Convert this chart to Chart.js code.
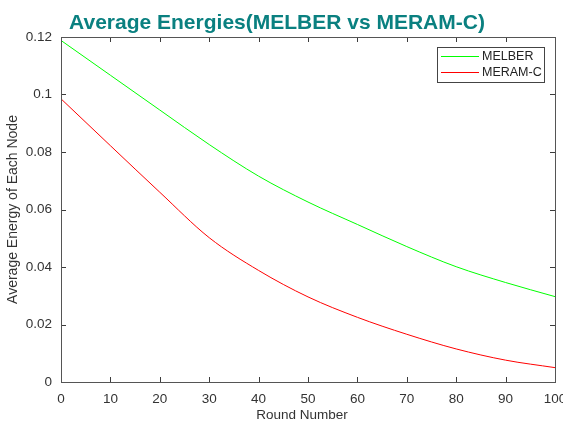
<!DOCTYPE html>
<html>
<head>
<meta charset="utf-8">
<script src="https://cdn.jsdelivr.net/npm/chart.js@4.4.1/dist/chart.umd.min.js"></script>
<style>
  html, body { margin: 0; padding: 0; background: #fff; }
  #wrap { width: 563px; height: 421px; position: relative; }
</style>
</head>
<body>
<div id="wrap"><canvas id="energyChart"></canvas></div>
<script>
// chart data
const rounds = [0, 10, 20, 30, 40, 50, 60, 70, 80, 90, 100];
const melber = [0.1188, 0.1067, 0.0946, 0.0826, 0.0716, 0.0626, 0.0548, 0.0471, 0.0401, 0.0346, 0.0297];
const meramC = [0.0985, 0.0822, 0.0660, 0.0502, 0.0388, 0.0296, 0.0225, 0.0166, 0.0115, 0.0076, 0.0050];
const yTickLabels = ['0', '0.02', '0.04', '0.06', '0.08', '0.1', '0.12'];
const xTickLabels = ['0', '10', '20', '30', '40', '50', '60', '70', '80', '90', '100'];
const seriesNames = ['MELBER', 'MERAM-C'];
const seriesColors = ['#00ff00', '#ff0000'];

const FONT = 'Liberation Sans, Arial, sans-serif';

function toPoints(ys) {
    return rounds.map((r, i) => ({ x: r, y: ys[i] }));
}

// box + inward ticks on all four sides, matlab style
const boxTicks = {
    id: 'boxTicks',
    afterDatasetsDraw(chart) {
        const { ctx, chartArea: a, scales } = chart;
        ctx.save();
        ctx.strokeStyle = '#3c3c3c';
        ctx.lineWidth = 1;
        ctx.beginPath();
        scales.x.ticks.forEach(t => {
            const px = Math.round(scales.x.getPixelForValue(t.value)) + 0.5;
            ctx.moveTo(px, a.bottom); ctx.lineTo(px, a.bottom - 5);
            ctx.moveTo(px, a.top); ctx.lineTo(px, a.top + 5);
        });
        scales.y.ticks.forEach(t => {
            const py = Math.round(scales.y.getPixelForValue(t.value)) + 0.5;
            ctx.moveTo(a.left, py); ctx.lineTo(a.left + 5, py);
            ctx.moveTo(a.right, py); ctx.lineTo(a.right - 5, py);
        });
        ctx.stroke();
        ctx.strokeStyle = '#555';
        ctx.strokeRect(Math.round(a.left) + 0.5, Math.round(a.top) + 0.5,
            Math.round(a.right - a.left), Math.round(a.bottom - a.top));
        ctx.restore();
    }
};

// legend box inside the top right corner
const innerLegend = {
    id: 'innerLegend',
    afterDraw(chart) {
        const { ctx } = chart;
        const x0 = 437, y0 = 47, w = 107, h = 35;
        ctx.save();
        ctx.fillStyle = '#fff';
        ctx.fillRect(x0, y0, w, h);
        ctx.strokeStyle = '#444';
        ctx.lineWidth = 1;
        ctx.strokeRect(x0 + 0.5, y0 + 0.5, w, h);
        ctx.font = '12.5px ' + FONT;
        ctx.textBaseline = 'middle';
        seriesNames.forEach((name, i) => {
            const y = Math.round(y0 + 9 + i * 16);
            ctx.fillStyle = seriesColors[i];
            ctx.fillRect(x0 + 4, y, 38, 1);
            ctx.fillStyle = '#222';
            ctx.fillText(name, x0 + 45, y + 1);
        });
        ctx.restore();
    }
};

// bold teal title above the plot, x axis title under it
const extraText = {
    id: 'extraText',
    afterDraw(chart) {
        const { ctx } = chart;
        ctx.save();
        ctx.font = 'bold 21px ' + FONT;
        ctx.fillStyle = '#0a8080';
        ctx.textAlign = 'center';
        ctx.textBaseline = 'alphabetic';
        ctx.fillText('Average Energies(MELBER vs MERAM-C)', 277, 29);
        ctx.font = '13.5px ' + FONT;
        ctx.fillStyle = '#333';
        ctx.fillText('Round Number', 302, 419);
        ctx.restore();
    }
};

new Chart(document.getElementById('energyChart'), {
    type: 'line',
    data: {
        datasets: [
            { label: seriesNames[0], data: toPoints(melber), borderColor: seriesColors[0], borderWidth: 1, pointRadius: 0, cubicInterpolationMode: 'monotone', fill: false },
            { label: seriesNames[1], data: toPoints(meramC), borderColor: seriesColors[1], borderWidth: 1, pointRadius: 0, cubicInterpolationMode: 'monotone', fill: false }
        ]
    },
    options: {
        responsive: true,
        maintainAspectRatio: false,
        animation: false,
        layout: { padding: { top: 37, right: 8, left: 0, bottom: 0 } },
        plugins: {
            legend: { display: false },
            title: { display: false },
            tooltip: { enabled: false }
        },
        scales: {
            x: {
                type: 'linear',
                min: 0, max: 100,
                afterFit: s => { s.height = 39; s.paddingRight = 0; s.paddingLeft = 0; },
                afterBuildTicks: s => { s.ticks = rounds.map(v => ({ value: v })); },
                grid: { display: false, drawTicks: false },
                border: { display: false },
                ticks: {
                    padding: 9,
                    color: '#333',
                    font: { family: FONT, size: 13.5 },
                    callback: (v, i) => xTickLabels[i]
                }
            },
            y: {
                min: 0, max: 0.12,
                afterFit: s => { s.width = 61; s.paddingTop = 0; s.paddingBottom = 0; },
                afterBuildTicks: s => { s.ticks = yTickLabels.map(l => ({ value: parseFloat(l) })); },
                grid: { display: false, drawTicks: false },
                border: { display: false },
                ticks: {
                    padding: 9,
                    color: '#333',
                    font: { family: FONT, size: 13.5 },
                    callback: (v, i) => yTickLabels[i]
                },
                title: {
                    display: true,
                    text: 'Average Energy of Each Node',
                    color: '#333',
                    font: { family: FONT, size: 14 },
                    padding: { top: 5, bottom: 0 }
                }
            }
        }
    },
    plugins: [boxTicks, innerLegend, extraText]
});
</script>
</body>
</html>
